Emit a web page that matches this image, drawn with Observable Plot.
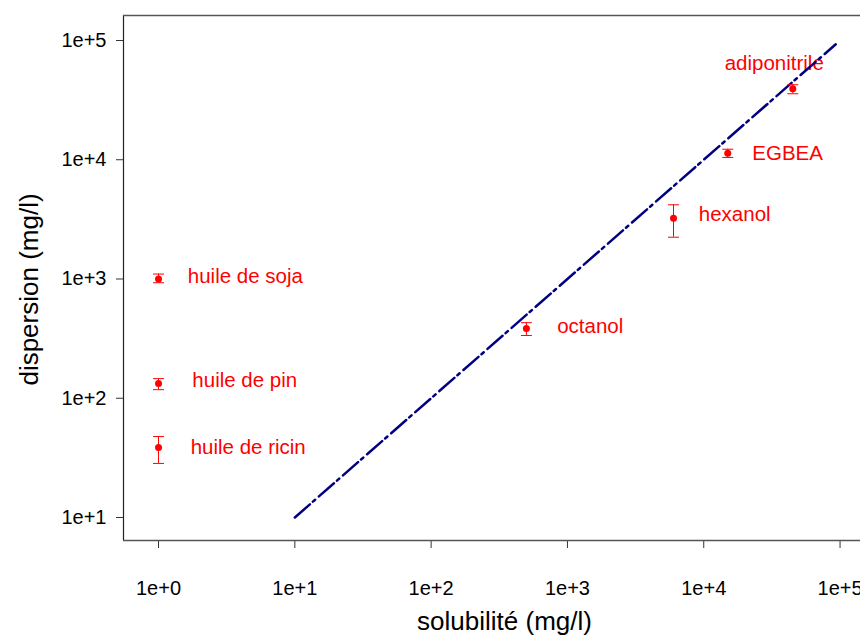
<!DOCTYPE html>
<html>
<head>
<meta charset="utf-8">
<script src="https://cdn.jsdelivr.net/npm/d3@7"></script>
<script src="https://cdn.jsdelivr.net/npm/@observablehq/plot@0.6"></script>
<style>
  html, body { margin: 0; padding: 0; background: white; overflow: hidden; }
</style>
</head>
<body>
<div id="chart"></div>
<script>
// ---- data ----
const names = ["huile de soja", "huile de pin", "huile de ricin", "octanol", "hexanol", "EGBEA", "adiponitrile"];
const solubility = [1, 1, 1, 500, 6000, 15000, 45000];
const dispersion = [1000, 133, 38.6, 385, 3230, 11350, 39400];
const errLow = [930, 118, 28.4, 336, 2240, 10450, 35750];
const errHigh = [1100, 146, 47.7, 430, 4190, 12250, 42550];
const labelX = [1.64, 1.77, 1.72, 841, 9200, 22700, 32900];
const labelY = [1050, 141, 38.9, 402, 3475, 11220, 64600];
const labelCentered = [false, false, false, false, false, false, true];
const lineX = [10, 93000];
const lineY = [10, 93000];
const xTicks = [1, 10, 100, 1000, 10000, 100000];
const yTicks = [10, 100, 1000, 10000, 100000];
const xTitle = "solubilité (mg/l)";
const yTitle = "dispersion (mg/l)";

const points = names.map((n, i) => ({
  name: n, x: solubility[i], y: dispersion[i], lo: errLow[i], hi: errHigh[i],
  lx: labelX[i], ly: labelY[i], centered: labelCentered[i]
}));
const fitLine = lineX.map((x, i) => ({x, y: lineY[i]}));

const xDomain = [Math.pow(10, -0.257), Math.pow(10, 5.15)];
const yDomain = [Math.pow(10, 0.807), Math.pow(10, 5.2096)];

const fmt = d => "1e+" + Math.round(Math.log10(d));

const capSymbol = {
  draw(ctx, size) {
    const w = Math.sqrt(size / Math.PI);
    ctx.moveTo(-w, 0);
    ctx.lineTo(w, 0);
  }
};

const chart = Plot.plot({
  width: 860,
  height: 635,
  marginLeft: 123,
  marginRight: 0,
  marginTop: 15,
  marginBottom: 95,
  style: {fontFamily: "'Liberation Sans', Arial, sans-serif", fontSize: "20px", background: "white", color: "black"},
  x: {type: "log", domain: xDomain, axis: null},
  y: {type: "log", domain: yDomain, axis: null},
  marks: [
    Plot.axisX(xTicks, {tickFormat: fmt, tickSize: 8, tickPadding: 32, fontSize: 20, label: null, stroke: "#333"}),
    Plot.axisY(yTicks, {tickFormat: fmt, tickSize: 7, tickPadding: 10, fontSize: 20, label: null, stroke: "#333"}),
    Plot.ruleX([xDomain[0]], {stroke: "#222", strokeWidth: 1.2}),
    Plot.ruleY([yDomain[0]], {stroke: "#555", strokeWidth: 1.6}),
    Plot.ruleY([yDomain[1]], {stroke: "#555", strokeWidth: 1.4}),
    Plot.text(points.filter(d => !d.centered), {x: "lx", y: "ly", text: "name", textAnchor: "start", fill: "red", fontSize: 20.5}),
    Plot.text(points.filter(d => d.centered), {x: "lx", y: "ly", text: "name", textAnchor: "middle", fill: "red", fontSize: 20.5}),
    Plot.line(fitLine, {x: "x", y: "y", stroke: "#000080", strokeWidth: 2.5, strokeDasharray: "20,4,3,5"}),
    Plot.ruleX(points, {x: "x", y1: "lo", y2: "hi", stroke: "red", strokeWidth: 1}),
    Plot.dot(points, {x: "x", y: "lo", symbol: capSymbol, r: 5.5, stroke: "red", strokeWidth: 1}),
    Plot.dot(points, {x: "x", y: "hi", symbol: capSymbol, r: 5.5, stroke: "red", strokeWidth: 1}),
    Plot.dot(points, {x: "x", y: "y", r: 3.5, fill: "red"}),
    Plot.text([xTitle], {frameAnchor: "bottom", lineAnchor: "middle", textAnchor: "middle", dy: 81, dx: 12.5, fontSize: 26, fill: "black"}),
    Plot.text([yTitle], {frameAnchor: "left", lineAnchor: "middle", textAnchor: "middle", rotate: -90, dx: -94, dy: 11.5, fontSize: 26, fill: "black"})
  ]
});
document.getElementById("chart").appendChild(chart);
</script>
</body>
</html>
